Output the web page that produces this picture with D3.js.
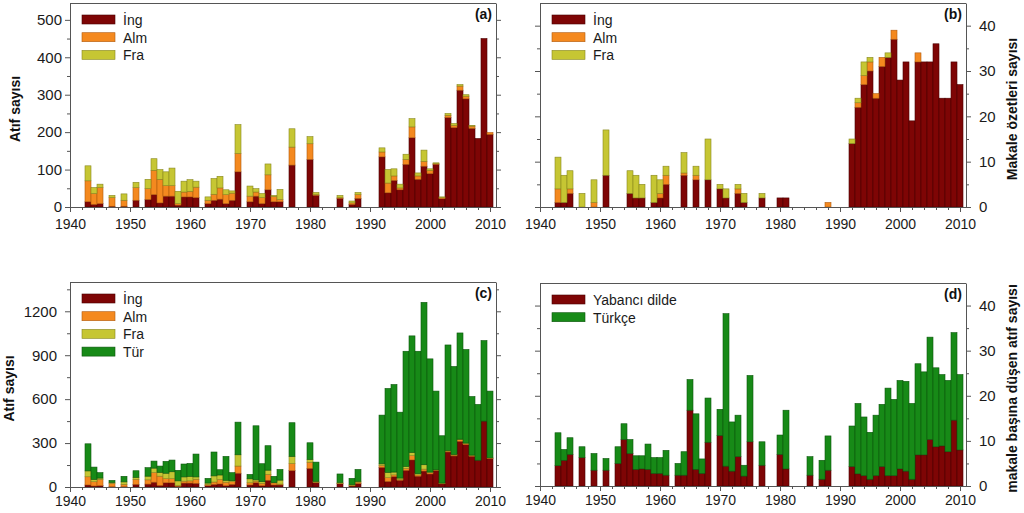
<!DOCTYPE html>
<html><head><meta charset="utf-8">
<script src="https://cdn.jsdelivr.net/npm/d3@7"></script>
<style>
body{margin:0;background:#fff;}
svg{display:block;}
svg text{font-family:"Liberation Sans",Arial,sans-serif;}
</style>
</head><body>
<svg id="chart" width="1024" height="513"></svg>
<script>
// ---------------- DATA (years 1943 .. 2010) ----------------
const years = d3.range(1943, 2011);
const xTickLabels = [1940, 1950, 1960, 1970, 1980, 1990, 2000, 2010];

// (a) Atıf sayısı by language
const ingA = [14,7,9,0,2,0,2,
  0,18,0,20,33,11,29,29,5,27,
  27,25,0,9,18,21,9,18,94,0,
  14,29,9,46,14,14,0,112,0,0,
  127,31,0,0,0,23,0,7,23,0,
  0,0,134,38,71,46,114,185,74,109,
  89,114,22,239,212,312,289,210,183,450,194];
const almA = [56,29,43,0,23,0,16,
  0,34,0,29,65,63,28,28,4,13,
  15,28,0,9,16,30,24,19,49,0,
  15,11,16,40,14,6,0,48,0,0,
  42,2,0,0,0,2,0,4,10,0,
  0,0,13,26,12,5,13,29,9,13,
  9,2,3,6,6,11,7,6,0,0,5];
const fraA = [40,16,9,0,6,0,17,
  0,14,0,25,31,26,37,47,33,29,
  31,16,0,9,42,31,13,6,77,0,
  27,9,11,29,3,27,0,49,0,0,
  19,6,0,0,0,6,0,5,6,0,
  0,0,11,36,19,10,14,22,8,30,
  4,2,2,5,5,4,4,2,0,0,0];
// (c) Türkçe citations added on top
const turC = [185,84,37,0,14,0,38,
  0,45,0,58,48,43,81,80,72,88,
  88,156,0,32,163,36,163,55,223,0,
  30,369,123,167,42,73,0,230,0,0,
  114,131,0,0,0,58,0,43,81,0,
  0,0,333,573,598,450,786,796,836,1109,
  773,537,323,720,600,725,639,400,381,550,456];
// (b) Makale özetleri sayısı
const ingB = [1,1,3,0,0,0,0,
  0,7,0,0,0,3,2,2,0,1,
  2,5,0,0,7,0,6,0,6,0,
  4,2,0,3,1,0,0,2,0,0,
  2,2,0,0,0,0,0,0,0,0,
  0,0,14,22,27,30,24,31,33,37,
  28,32,19,32,32,32,36,24,24,32,27];
const almB = [3,0,1,0,0,0,1,
  0,0,0,0,0,0,0,0,0,0,
  1,2,0,0,0.5,0,1,0,0,0,
  0,0,0,1,0,0,0,0,0,0,
  0,0,0,0,0,0,0,0,1,0,
  0,0,0,1,2,2,1,2,0,2,
  0,0,0,2,0,0,0,0,0,0,0];
const fraB = [7,6,4,0,3,0,5,
  0,10,0,0,0,5,5,3,0,6,
  3,2,0,0,4.5,0,2,0,9,0,
  1,2,0,1,2,0,0,1,0,0,
  0,0,0,0,0,0,0,0,0,0,
  0,0,1,1,3,1,0,0,1,0,
  0,0,0,0,0,0,0,0,0,0,0];
// (d) makale başına düşen atıf sayısı
const yabD = [4.5,5.7,7.0,0,6.3,0,3.5,
  0,3.5,0,5.0,10.3,7.2,3.7,3.8,3.7,2.8,
  2.8,2.4,0,2.4,2.4,16.8,3.7,2.8,9.7,0,
  11.2,4.4,3.3,6.5,2.2,9.8,0,4.6,0,0,
  7.0,3.8,0,0,0,2.4,0,1.5,3.5,0,
  0,0,4.3,2.7,2.3,1.5,2.3,4.3,2.3,2.3,
  3.8,3.3,1.5,6.9,6.9,10.3,8.7,8.9,7.6,14.6,8.0];
const turD = [7.3,2.4,3.7,0,2.4,0,3.7,
  0,2.6,0,3.7,3.5,3.1,3.0,2.9,5.6,3.5,
  3.5,5.5,0,2.6,5.2,6.8,12.3,3.2,9.8,0,
  5.8,33.8,10.9,9.2,2.4,14.7,0,5.2,0,0,
  4.3,13.0,0,0,0,4.1,0,4.2,7.6,0,
  0,0,9.0,15.6,13.0,10.4,13.4,13.8,19.4,16.9,
  19.6,19.9,16.8,20.2,18.4,22.7,17.5,15.8,15.8,19.4,16.7];

const yTicksA = [0,100,200,300,400,500];
const yTicksB = [0,10,20,30,40];
const yTicksC = [0,300,600,900,1200];
const yTicksD = [0,10,20,30,40];

// ---------------- STYLE ----------------
const FONT = "'Liberation Sans', Arial, sans-serif";
const COL = {
  ing: {fill:"#7e0505", stroke:"#4a0000"},
  alm: {fill:"#f4891f", stroke:"#b05a10"},
  fra: {fill:"#c6c633", stroke:"#878720"},
  tur: {fill:"#178a17", stroke:"#0c560c"}
};
const AXIS = "#555";
const svg = d3.select("#chart");

function drawPanel(p){
  const g = svg.append("g");
  const W = 426;
  const x = d3.scaleLinear().domain([1940, 2011]).range([p.left, p.left + W]);
  const y = d3.scaleLinear().domain(p.yDomain).range([p.bottom, p.top]);
  const keys = p.series.map(s => s.key);
  const rows = years.map((yr, i) => {
    const o = {year: yr};
    p.series.forEach(s => o[s.key] = s.values[i]);
    return o;
  });
  const layers = d3.stack().keys(keys)(rows);
  layers.forEach((layer, li) => {
    const c = p.series[li].col;
    g.append("g").selectAll("rect")
      .data(layer.filter(d => d[1] - d[0] > 0))
      .join("rect")
      .attr("x", d => x(d.data.year - 0.5))
      .attr("width", d => x(d.data.year + 0.5) - x(d.data.year - 0.5))
      .attr("y", d => y(d[1]))
      .attr("height", d => y(d[0]) - y(d[1]))
      .attr("fill", c.fill)
      .attr("stroke", c.stroke)
      .attr("stroke-width", 0.6);
  });

  const styleAxis = (sel, fs) => {
    sel.selectAll("path,line").attr("stroke", AXIS);
    sel.selectAll("text").attr("fill", "#1a1a1a")
      .attr("font-family", FONT).style("font-size", fs + "px");
  };

  // bottom axis
  const bx = g.append("g").attr("transform", `translate(0,${p.bottom})`)
    .call(d3.axisBottom(x).tickValues(xTickLabels).tickFormat(d3.format("d"))
      .tickSize(5).tickSizeOuter(0).tickPadding(p.xPad));
  styleAxis(bx, 14);
  const bxm = g.append("g").attr("transform", `translate(0,${p.bottom})`)
    .call(d3.axisBottom(x).tickValues(d3.range(1942, 2011, 2).filter(v => v % 10 !== 0))
      .tickFormat("").tickSize(3).tickSizeOuter(0));
  bxm.select(".domain").remove();
  styleAxis(bxm, 14);

  // left & right axes
  const minor = [];
  for (let i = 0; i < p.yTicks.length; i++) {
    const v = p.yTicks[i] + (p.yTicks[1] - p.yTicks[0]) / 2;
    if (v < p.yDomain[1]) minor.push(v);
  }
  [["left", p.left], ["right", p.left + W]].forEach(([side, xp]) => {
    const labeled = side === p.labelSide;
    const gen = side === "left" ? d3.axisLeft(y) : d3.axisRight(y);
    const a = g.append("g").attr("transform", `translate(${xp},0)`)
      .call(gen.tickValues(p.yTicks).tickSize(5).tickSizeOuter(0)
        .tickPadding(labeled ? p.yPad : 3)
        .tickFormat(labeled ? d3.format("d") : ""));
    styleAxis(a, p.yFont);
    const m = g.append("g").attr("transform", `translate(${xp},0)`)
      .call((side === "left" ? d3.axisLeft(y) : d3.axisRight(y))
        .tickValues(minor).tickSize(3).tickSizeOuter(0).tickFormat(""));
    m.select(".domain").remove();
    styleAxis(m, p.yFont);
  });
  // top border
  g.append("line").attr("x1", p.left).attr("x2", p.left + W)
    .attr("y1", p.top + 0.5).attr("y2", p.top + 0.5).attr("stroke", AXIS);

  // panel letter
  g.append("text").attr("x", p.left + W - 4).attr("y", p.top + 16)
    .attr("text-anchor", "end").attr("font-family", FONT)
    .style("font-size", "14px").style("font-weight", "bold")
    .attr("fill", "#111").text(p.letter);

  // legend
  p.series.forEach((s, i) => {
    const ly = p.top + 12 + i * 17.7;
    g.append("rect").attr("x", p.left + 12).attr("y", ly).attr("width", 33).attr("height", 9)
      .attr("fill", s.col.fill).attr("stroke", s.col.stroke).attr("stroke-width", 0.6);
    g.append("text").attr("x", p.left + 53).attr("y", ly + 10)
      .attr("font-family", FONT).style("font-size", "14px")
      .attr("fill", "#1a1a1a").text(s.name);
  });

  // axis title
  const cy = (p.top + p.bottom) / 2 + 4;
  g.append("text")
    .attr("transform", `translate(${p.titleX},${cy}) rotate(-90)`)
    .attr("text-anchor", "middle").attr("font-family", FONT)
    .style("font-size", "14px").style("font-weight", "bold")
    .attr("fill", "#111").text(p.title);
}

drawPanel({
  left: 70, top: 3, bottom: 207, yDomain: [0, 545], yTicks: yTicksA,
  labelSide: "left", yPad: 3, yFont: 15, xPad: 7, letter: "(a)",
  title: "Atıf sayısı", titleX: 20,
  series: [
    {key: "ing", name: "İng", values: ingA, col: COL.ing},
    {key: "alm", name: "Alm", values: almA, col: COL.alm},
    {key: "fra", name: "Fra", values: fraA, col: COL.fra}
  ]
});
drawPanel({
  left: 540, top: 3, bottom: 207, yDomain: [0, 45], yTicks: yTicksB,
  labelSide: "right", yPad: 8, yFont: 15, xPad: 7, letter: "(b)",
  title: "Makale özetleri sayısı", titleX: 1017,
  series: [
    {key: "ing", name: "İng", values: ingB, col: COL.ing},
    {key: "alm", name: "Alm", values: almB, col: COL.alm},
    {key: "fra", name: "Fra", values: fraB, col: COL.fra}
  ]
});
drawPanel({
  left: 70, top: 282, bottom: 487, yDomain: [0, 1400], yTicks: yTicksC,
  labelSide: "left", yPad: 8, yFont: 15, xPad: 4, letter: "(c)",
  title: "Atıf sayısı", titleX: 14,
  series: [
    {key: "ing", name: "İng", values: ingA, col: COL.ing},
    {key: "alm", name: "Alm", values: almA, col: COL.alm},
    {key: "fra", name: "Fra", values: fraA, col: COL.fra},
    {key: "tur", name: "Tür", values: turC, col: COL.tur}
  ]
});
drawPanel({
  left: 540, top: 283, bottom: 486, yDomain: [0, 45], yTicks: yTicksD,
  labelSide: "right", yPad: 8, yFont: 15, xPad: 4, letter: "(d)",
  title: "makale başına düşen atıf sayısı", titleX: 1017,
  series: [
    {key: "yab", name: "Yabancı dilde", values: yabD, col: COL.ing},
    {key: "tur", name: "Türkçe", values: turD, col: COL.tur}
  ]
});
</script>
</body></html>
